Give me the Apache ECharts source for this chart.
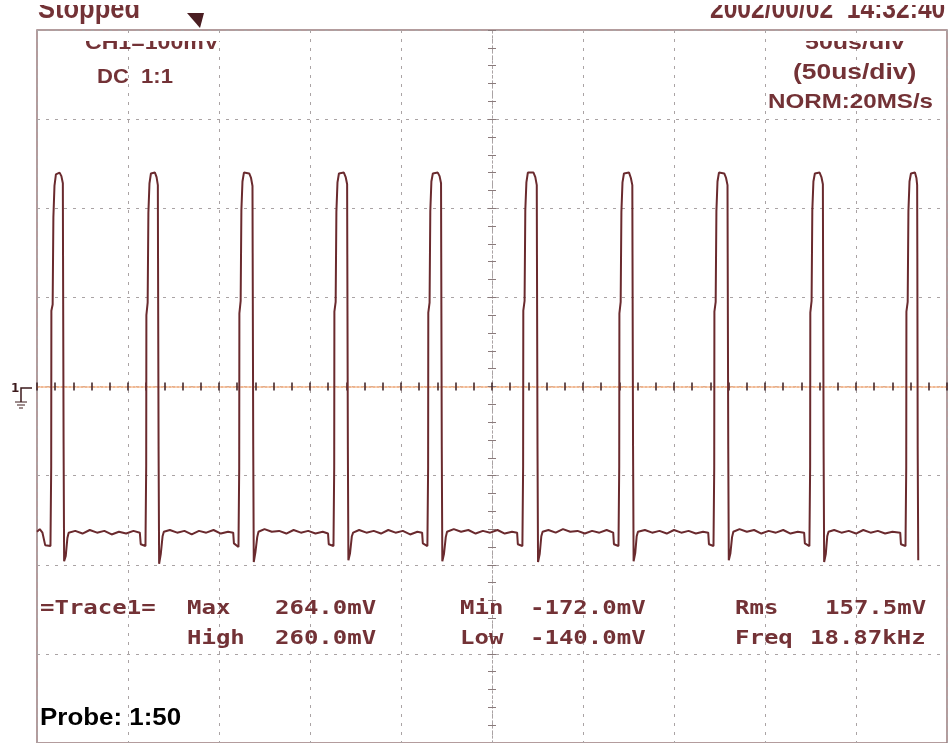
<!DOCTYPE html>
<html lang="en">
<head>
  <meta charset="UTF-8">
  <title>Scope capture - Trace1</title>
  <script src="https://cdn.jsdelivr.net/npm/echarts@6/dist/echarts.min.js"></script>
  <style>
    * { margin: 0; padding: 0; }
    html, body { width: 951px; height: 743px; background: #fff; }
    #chartbox { width: 951px; height: 743px; }
  </style>
</head>
<body>
<div id="chartbox"></div>
<script>
  // time axis in us (0 = screen centre), 50us/div; vertical in mV, 100mV/div
  let timeRange = [-250, 250]
  let voltRange = [-400, 400]

  // trace, [us, mV]
  let trace = [
    [-250, -163], [-248.5, -160], [-247, -164], [-246, -165], [-245.5, -178], [-242.6, -179],
    // pulse 1
    [-242.3, -178], [-242.2, -90], [-242.1, 85], [-241.4, 92], [-241.0, 190], [-240.4, 225], [-239.6, 238],
    [-237.6, 240], [-236.6, 236], [-235.8, 228], [-235.7, 150], [-235.4, -60], [-235.1, -196], [-234.2, -190],
    [-233.3, -170], [-232.6, -164], [-229, -162], [-225, -165], [-221, -161], [-217, -164], [-213, -162],
    [-209, -166], [-205, -163], [-201, -165], [-197, -162], [-193.5, -164], [-193, -177], [-190.4, -179],
    // pulse 2
    [-190.1, -178], [-190.0, -88], [-189.9, 80], [-189.2, 94], [-188.8, 195], [-188.2, 228], [-187.4, 239],
    [-185.2, 240], [-184.3, 235], [-183.6, 226], [-183.5, 145], [-183.2, -70], [-182.9, -199], [-182.0, -188],
    [-181.0, -168], [-180.3, -163], [-177, -161], [-173, -164], [-169, -162], [-165, -166], [-161, -162],
    [-157, -164], [-153, -161], [-149, -165], [-145, -163], [-142.2, -164], [-141.8, -176], [-139.3, -180],
    // pulse 3
    [-139.0, -178], [-138.9, -92], [-138.8, 82], [-138.1, 96], [-137.7, 198], [-137.1, 230], [-136.3, 240],
    [-133.4, 239], [-132.4, 234], [-131.6, 225], [-131.5, 150], [-131.2, -65], [-130.9, -197], [-130.0, -186],
    [-129.0, -169], [-128.3, -163], [-125, -160], [-121, -163], [-117, -162], [-113, -165], [-109, -161],
    [-105, -164], [-101, -162], [-97, -165], [-93, -163], [-90.1, -165], [-89.7, -177], [-87.1, -179],
    // pulse 4
    [-86.8, -178], [-86.7, -90], [-86.6, 84], [-85.9, 95], [-85.5, 196], [-84.9, 229], [-84.1, 239],
    [-81.4, 240], [-80.4, 235], [-79.6, 227], [-79.5, 148], [-79.2, -68], [-78.9, -195], [-78.0, -187],
    [-77.0, -168], [-76.3, -164], [-73, -161], [-69, -164], [-65, -162], [-61, -165], [-57, -161],
    [-53, -164], [-49, -162], [-45, -166], [-41, -163], [-38.4, -164], [-38.0, -176], [-35.5, -179],
    // pulse 5
    [-35.2, -178], [-35.1, -91], [-35.0, 83], [-34.3, 94], [-33.9, 197], [-33.3, 230], [-32.5, 239],
    [-29.8, 240], [-28.8, 236], [-28.0, 228], [-27.9, 150], [-27.6, -66], [-27.3, -196], [-26.4, -188],
    [-25.4, -169], [-24.7, -163], [-21, -160], [-17, -163], [-13, -161], [-9, -165], [-5, -162],
    [-1, -164], [3, -161], [7, -165], [11, -163], [13.8, -164], [14.2, -177], [16.7, -179],
    // pulse 6
    [17.0, -178], [17.1, -89], [17.2, 85], [17.9, 96], [18.3, 198], [18.9, 229], [19.7, 240],
    [22.8, 240], [23.8, 235], [24.6, 226], [24.7, 147], [25.0, -69], [25.3, -197], [26.2, -188],
    [27.1, -168], [27.8, -163], [31, -161], [35, -164], [39, -160], [43, -163], [47, -162],
    [51, -165], [55, -162], [59, -164], [63, -161], [66.6, -164], [67, -177], [69.5, -179],
    // pulse 7
    [69.8, -178], [69.9, -90], [70.0, 82], [70.7, 95], [71.1, 196], [71.7, 229], [72.5, 239],
    [75.3, 240], [76.3, 234], [77.1, 226], [77.2, 148], [77.5, -67], [77.8, -196], [78.7, -187],
    [79.5, -168], [80.2, -163], [84, -161], [88, -164], [92, -162], [96, -165], [100, -161],
    [104, -164], [108, -162], [112, -165], [116, -163], [118.8, -164], [119.2, -177], [121.7, -179],
    // pulse 8
    [122.0, -178], [122.1, -91], [122.2, 84], [122.9, 95], [123.3, 197], [123.9, 230], [124.7, 240],
    [127.6, 239], [128.6, 234], [129.4, 226], [129.5, 149], [129.8, -66], [130.1, -195], [131.0, -187],
    [131.9, -169], [132.6, -163], [136, -160], [140, -163], [144, -161], [148, -165], [152, -162],
    [156, -164], [160, -161], [164, -165], [168, -163], [171.5, -164], [171.9, -176], [174.4, -179],
    // pulse 9
    [174.7, -178], [174.8, -90], [174.9, 83], [175.6, 96], [176.0, 198], [176.6, 230], [177.4, 239],
    [180.0, 240], [181.0, 235], [181.8, 227], [181.9, 150], [182.2, -68], [182.5, -197], [183.4, -188],
    [184.2, -168], [184.9, -163], [188, -161], [192, -164], [196, -162], [200, -165], [204, -161],
    [208, -164], [212, -162], [216, -165], [220, -163], [224.3, -164], [224.7, -177], [227.2, -179],
    // pulse 10 (trace ends on its falling edge)
    [227.5, -178], [227.6, -90], [227.7, 84], [228.4, 95], [228.8, 197], [229.4, 230], [230.2, 239],
    [232.4, 240], [233.2, 234], [233.6, 226], [233.7, 150], [233.9, -70], [234.2, -195]
  ]

  let statNames = ['Max', 'Min', 'Rms', 'High', 'Low', 'Freq']
  let statValues = ['264.0mV', '-172.0mV', '157.5mV', '260.0mV', '-140.0mV', '18.87kHz']

  let maroon = '#733236'
  let traceColor = '#6a2a2e'

  let myChart = echarts.init(document.getElementById('chartbox'))

  function monoText(str, x, y) {
    return {
      type: 'text', x: x, y: y, scaleX: 1.2, z: 10,
      style: {text: str, font: 'bold 20px "DejaVu Sans Mono"', fill: maroon, textVerticalAlign: 'middle'}
    }
  }

  function sansText(str, x, y, size, sx) {
    return {
      type: 'text', x: x, y: y, scaleX: sx, z: 10,
      style: {text: str, font: 'bold ' + size + 'px "Liberation Sans"', fill: maroon, textVerticalAlign: 'middle'}
    }
  }

  // stats block, two rows of three
  let statCols = [187, 460, 735]
  let valCols = [275, 530, 825]
  let graphics = [monoText('=Trace1=', 40, 609)]
  statNames.forEach(function (n, i) {
    let row = Math.floor(i / 3)
    let col = i % 3
    let y = row === 0 ? 609 : 639
    graphics.push(monoText(n, statCols[col], y))
    graphics.push(monoText(statValues[i], i === 5 ? 810 : valCols[col], y))
  })

  graphics = graphics.concat([
    // header, cut off along the top of the screen
    sansText('Stopped', 38, 10, 30, 0.85),
    sansText('2002/00/02  14:32:40', 710, 10, 30, 0.82),
    {type: 'rect', z: 11, shape: {x: 30, y: 0, width: 921, height: 5}, style: {fill: '#fff'}},
    {type: 'polygon', z: 10, shape: {points: [[187, 13], [204, 13], [200, 28]]}, style: {fill: '#4a1e22'}},
    sansText('CH1=100mV', 85, 43, 21, 1.1),
    sansText('50us/div', 805, 43, 21, 1.19),
    {type: 'rect', z: 11, shape: {x: 80, y: 33, width: 145, height: 8}, style: {fill: '#fff'}},
    {type: 'rect', z: 11, shape: {x: 800, y: 33, width: 112, height: 8}, style: {fill: '#fff'}},
    sansText('DC  1:1', 97, 77, 21, 1.05),
    sansText('(50us/div)', 793, 73, 22, 1.2),
    sansText('NORM:20MS/s', 768, 102, 21, 1.15),
    {
      type: 'text', x: 40, y: 718, scaleX: 1.08, z: 10,
      style: {text: 'Probe: 1:50', font: 'bold 24px "Liberation Sans"', fill: '#000', textVerticalAlign: 'middle'}
    },
    // channel 1 ground marker
    {
      type: 'text', x: 11, y: 389, z: 10,
      style: {text: '1', font: 'bold 12px "DejaVu Sans"', fill: '#3c1a1c', textVerticalAlign: 'middle'}
    },
    {type: 'polyline', z: 10, shape: {points: [[32, 388], [21, 388], [21, 402]]}, style: {stroke: '#3c1a1c', lineWidth: 1.5}},
    {type: 'line', z: 10, shape: {x1: 15, y1: 402, x2: 27, y2: 402}, style: {stroke: '#3c1a1c', lineWidth: 1}},
    {type: 'line', z: 10, shape: {x1: 17, y1: 405, x2: 25, y2: 405}, style: {stroke: '#3c1a1c', lineWidth: 1}},
    {type: 'line', z: 10, shape: {x1: 19, y1: 408, x2: 23, y2: 408}, style: {stroke: '#3c1a1c', lineWidth: 1}}
  ])

  let tickStyle = {color: '#3a1d20', width: 1.5}

  let option = {
    backgroundColor: '#fff',
    animation: false,
    grid: {
      left: 37, top: 30, right: 4, bottom: 0,
      show: true, borderColor: '#9a7c7e', borderWidth: 1.5
    },
    xAxis: [
      {
        type: 'value', min: timeRange[0], max: timeRange[1], interval: 50,
        axisLine: {show: true, onZero: true, onZeroAxisIndex: 0, lineStyle: {color: '#f0b48c', type: [2, 2], width: 1.5}},
        axisTick: {show: true, length: 4, lineStyle: tickStyle},
        minorTick: {show: true, splitNumber: 5, length: 4, lineStyle: tickStyle},
        axisLabel: {show: false},
        splitLine: {show: true, lineStyle: {color: '#aaa3a4', type: [3, 6], width: 1}}
      },
      {
        type: 'value', position: 'top', min: timeRange[0], max: timeRange[1], interval: 50,
        axisLine: {show: true, onZero: true, onZeroAxisIndex: 1, lineStyle: {color: '#f0b48c', type: [2, 2], width: 1.5}},
        axisTick: {show: true, length: 4, lineStyle: tickStyle},
        minorTick: {show: true, splitNumber: 5, length: 4, lineStyle: tickStyle},
        axisLabel: {show: false},
        splitLine: {show: false}
      }
    ],
    yAxis: [
      {
        type: 'value', min: voltRange[0], max: voltRange[1], interval: 100,
        axisLine: {show: true, onZero: true, onZeroAxisIndex: 0, lineStyle: {color: '#aaa3a4', type: [2, 3], width: 1}},
        axisTick: {show: true, length: 4, lineStyle: {color: '#8a7a7b', width: 1}},
        minorTick: {show: true, splitNumber: 5, length: 4, lineStyle: {color: '#8a7a7b', width: 1}},
        axisLabel: {show: false},
        splitLine: {show: true, lineStyle: {color: '#aaa3a4', type: [3, 6], width: 1}}
      },
      {
        type: 'value', position: 'right', min: voltRange[0], max: voltRange[1], interval: 100,
        axisLine: {show: true, onZero: true, onZeroAxisIndex: 1, lineStyle: {color: '#aaa3a4', type: [2, 3], width: 1}},
        axisTick: {show: true, length: 4, lineStyle: {color: '#8a7a7b', width: 1}},
        minorTick: {show: true, splitNumber: 5, length: 4, lineStyle: {color: '#8a7a7b', width: 1}},
        axisLabel: {show: false},
        splitLine: {show: false}
      }
    ],
    series: [
      {
        name: 'Trace1',
        type: 'line',
        xAxisIndex: 0,
        yAxisIndex: 0,
        data: trace,
        showSymbol: false,
        z: 5,
        lineStyle: {color: traceColor, width: 2}
      }
    ],
    graphic: graphics
  }

  myChart.setOption(option)
</script>
</body>
</html>
